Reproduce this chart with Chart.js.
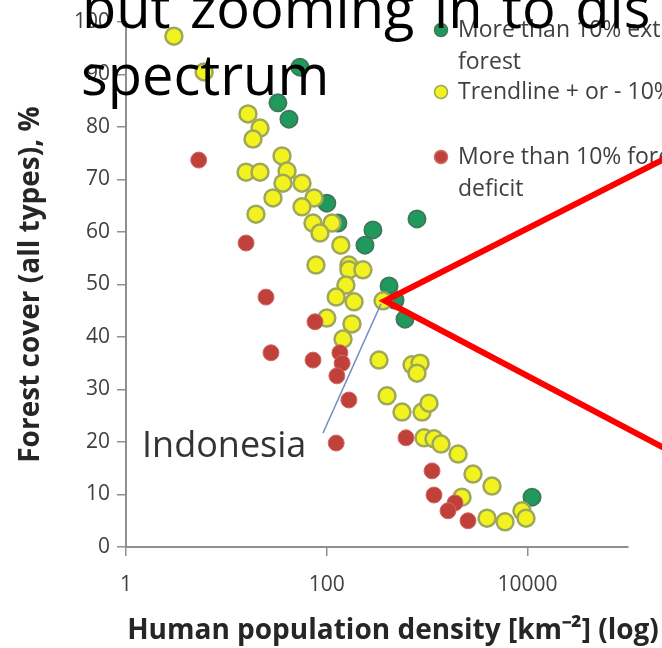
<!DOCTYPE html>
<html>
<head>
<meta charset="utf-8">
<script src="https://cdn.jsdelivr.net/npm/chart.js@4.4.1/dist/chart.umd.min.js"></script>
<style>
  html, body { margin: 0; padding: 0; background: #fff; }
  #wrap { position: relative; width: 662px; height: 648px; overflow: hidden; }
  #chart { position: absolute; left: 0; top: 0; filter: blur(0.45px); }
  #overlay { position: absolute; left: 0; top: 0; pointer-events: none; }
</style>
</head>
<body>
<div id="wrap">
  <canvas id="chart" width="662" height="648"></canvas>
  <canvas id="overlay" width="662" height="648"></canvas>
</div>
<script>
// Countries with more forest than the trend predicts (green)
const extraForestDensity = [54, 32.6, 42, 100, 129, 288, 791, 240, 417, 478, 601, 11070];
const extraForestCover   = [91.4, 84.6, 81.5, 65.5, 61.7, 60.4, 62.5, 57.5, 49.7, 47.0, 43.4, 9.5];

// Countries within 10% of the trendline (yellow)
const trendDensity = [3.0, 6.0, 16.4, 21.6, 18.4, 35.8, 15.7, 21.6, 40.2, 36.6, 56.6, 29.1, 74.6, 19.7, 56.6,
  72.9, 112.7, 85.5, 138, 78, 166, 166, 229, 155, 124, 187, 363, 100, 178, 145, 331, 706, 848, 791, 398,
  561, 888, 1042, 929, 1169, 1372, 2028, 2858, 4418, 2222, 3944, 5960, 8790, 9640];
const trendCover = [97.3, 90.5, 82.5, 79.8, 77.7, 74.5, 71.4, 71.4, 71.6, 69.3, 69.3, 66.5, 66.5, 63.4, 64.8,
  61.7, 61.7, 59.8, 57.5, 53.7, 53.7, 52.8, 52.8, 49.9, 47.6, 46.7, 46.9, 43.6, 42.5, 39.6, 35.6, 34.7, 35.0, 33.1, 28.8,
  25.7, 25.7, 27.4, 20.8, 20.6, 19.6, 17.7, 13.9, 11.6, 9.5, 5.5, 4.8, 6.9, 5.5];

// Countries with a forest deficit of more than 10% (red)
const deficitDensity = [5.3, 15.7, 24.8, 27.8, 76.3, 72.9, 135, 142, 126, 166, 124, 615, 1117, 1169, 1892, 1611, 2548];
const deficitCover   = [73.7, 57.9, 47.6, 37.0, 42.9, 35.6, 37.0, 35.0, 32.6, 28.0, 19.8, 20.8, 14.5, 9.9, 8.4, 6.9, 5.0];

// Axis ticks
const xTickValues = [1, 100, 10000];
const yTickValues = [0, 10, 20, 30, 40, 50, 60, 70, 80, 90, 100];

// Highlighted country (index into the trendline series)
const highlightName = 'Indonesia';
const highlightIndex = 26;

const seriesNames = ['More than 10% extra forest', 'Trendline + or - 10%', 'More than 10% forest deficit'];

const toPoints = (xs, ys) => xs.map((x, i) => ({ x: x, y: ys[i] }));

const COLORS = {
  green:  { fill: '#1f9a5c', border: '#3d7a5a' },
  yellow: { fill: '#f2f21e', border: '#9ea75a' },
  red:    { fill: '#c0413a', border: '#cf6a64' }
};

const overlayPlugin = {
  id: 'slideExtras',
  afterDraw(chart) {
    const ctx = chart.ctx;
    const xs = chart.scales.x, ys = chart.scales.y;

    // legend (custom, wrapped lines)
    ctx.save();
    ctx.font = '23px "Open Sans"';
    ctx.textBaseline = 'middle';
    ctx.textAlign = 'left';
    const legendItems = [
      { c: COLORS.green,  y: 30,  lines: ['More than 10% extra', 'forest'] },
      { c: COLORS.yellow, y: 92,  lines: ['Trendline + or - 10%'] },
      { c: COLORS.red,    y: 157, lines: ['More than 10% forest', 'deficit'] }
    ];
    legendItems.forEach(item => {
      ctx.beginPath();
      ctx.arc(441, item.y, 6.5, 0, Math.PI * 2);
      ctx.fillStyle = item.c.fill;
      ctx.fill();
      ctx.lineWidth = 1.5;
      ctx.strokeStyle = item.c.border;
      ctx.stroke();
      ctx.fillStyle = '#404040';
      item.lines.forEach((t, i) => ctx.fillText(t, 458, item.y + i * 32));
    });
    ctx.restore();

    // highlighted country label with leader line
    const hx = xs.getPixelForValue(trendDensity[highlightIndex]);
    const hy = ys.getPixelForValue(trendCover[highlightIndex]);
    ctx.save();
    ctx.strokeStyle = '#7590c4';
    ctx.lineWidth = 1.6;
    ctx.beginPath();
    ctx.moveTo(323, 433);
    ctx.lineTo(hx - 2, hy + 3);
    ctx.stroke();
    ctx.font = '36px "Open Sans"';
    ctx.fillStyle = '#333333';
    ctx.textBaseline = 'alphabetic';
    ctx.fillText(highlightName, 142, 457);
    ctx.restore();

    // x axis title
    ctx.save();
    ctx.font = 'bold 28px "Open Sans"';
    ctx.fillStyle = '#262626';
    ctx.textAlign = 'center';
    ctx.textBaseline = 'middle';
    ctx.fillText('Human population density [km⁻²] (log)', 393, 631);
    ctx.restore();

    // sharp overlay: slide heading and pointer
    const ov = document.getElementById('overlay').getContext('2d');
    ov.clearRect(0, 0, 662, 648);
    ov.save();
    ov.strokeStyle = '#ff0000';
    ov.lineWidth = 6;
    ov.lineJoin = 'miter';
    ov.beginPath();
    ov.moveTo(664, 159);
    ov.lineTo(hx + 2, hy);
    ov.lineTo(664, 448);
    ov.stroke();
    ov.font = '56px "Open Sans"';
    ov.fillStyle = '#000000';
    ov.textBaseline = 'alphabetic';
    ov.wordSpacing = '5px';
    ov.fillText('but zooming in to dis', 82, 28);
    ov.wordSpacing = '0px';
    ov.fillText('spectrum', 81, 95);
    ov.restore();
  }
};

const axisGrid = {
  display: true,
  drawOnChartArea: false,
  drawTicks: true,
  tickLength: 9,
  color: '#8f8f8f',
  lineWidth: 1.5
};

new Chart(document.getElementById('chart'), {
  type: 'scatter',
  data: {
    datasets: [
      {
        label: seriesNames[0],
        data: toPoints(extraForestDensity, extraForestCover),
        backgroundColor: COLORS.green.fill,
        borderColor: COLORS.green.border,
        borderWidth: 2,
        pointRadius: 8.5,
        order: 3
      },
      {
        label: seriesNames[1],
        data: toPoints(trendDensity, trendCover),
        backgroundColor: COLORS.yellow.fill,
        borderColor: COLORS.yellow.border,
        borderWidth: 2.5,
        pointRadius: 8.5,
        order: 2
      },
      {
        label: seriesNames[2],
        data: toPoints(deficitDensity, deficitCover),
        backgroundColor: COLORS.red.fill,
        borderColor: COLORS.red.border,
        borderWidth: 1,
        pointRadius: 8,
        order: 1
      }
    ]
  },
  options: {
    responsive: false,
    animation: false,
    devicePixelRatio: 1,
    layout: { padding: { top: 22, right: 34, bottom: 0, left: 0 } },
    plugins: {
      legend: { display: false },
      tooltip: { enabled: false }
    },
    scales: {
      x: {
        type: 'logarithmic',
        min: 1,
        max: 100000,
        afterBuildTicks: s => { s.ticks = xTickValues.map(v => ({ value: v })); },
        afterFit: s => { s.height = 101; },
        ticks: {
          autoSkip: false,
          maxRotation: 0,
          padding: 16,
          color: '#404040',
          font: { family: '"Open Sans"', size: 21 },
          callback: v => String(v)
        },
        grid: axisGrid,
        border: { display: true, color: '#8f8f8f', width: 2 }
      },
      y: {
        min: 0,
        max: 100,
        afterBuildTicks: s => { s.ticks = yTickValues.map(v => ({ value: v })); },
        afterFit: s => { s.width = 126; },
        ticks: {
          padding: 7,
          color: '#404040',
          font: { family: '"Open Sans"', size: 21 }
        },
        grid: axisGrid,
        border: { display: true, color: '#8f8f8f', width: 2 },
        title: {
          display: true,
          text: 'Forest cover (all types), %',
          color: '#262626',
          font: { family: '"Open Sans"', size: 28, weight: 'bold' },
          padding: { top: 14, bottom: 0 }
        }
      }
    }
  },
  plugins: [overlayPlugin]
});
</script>
</body>
</html>
